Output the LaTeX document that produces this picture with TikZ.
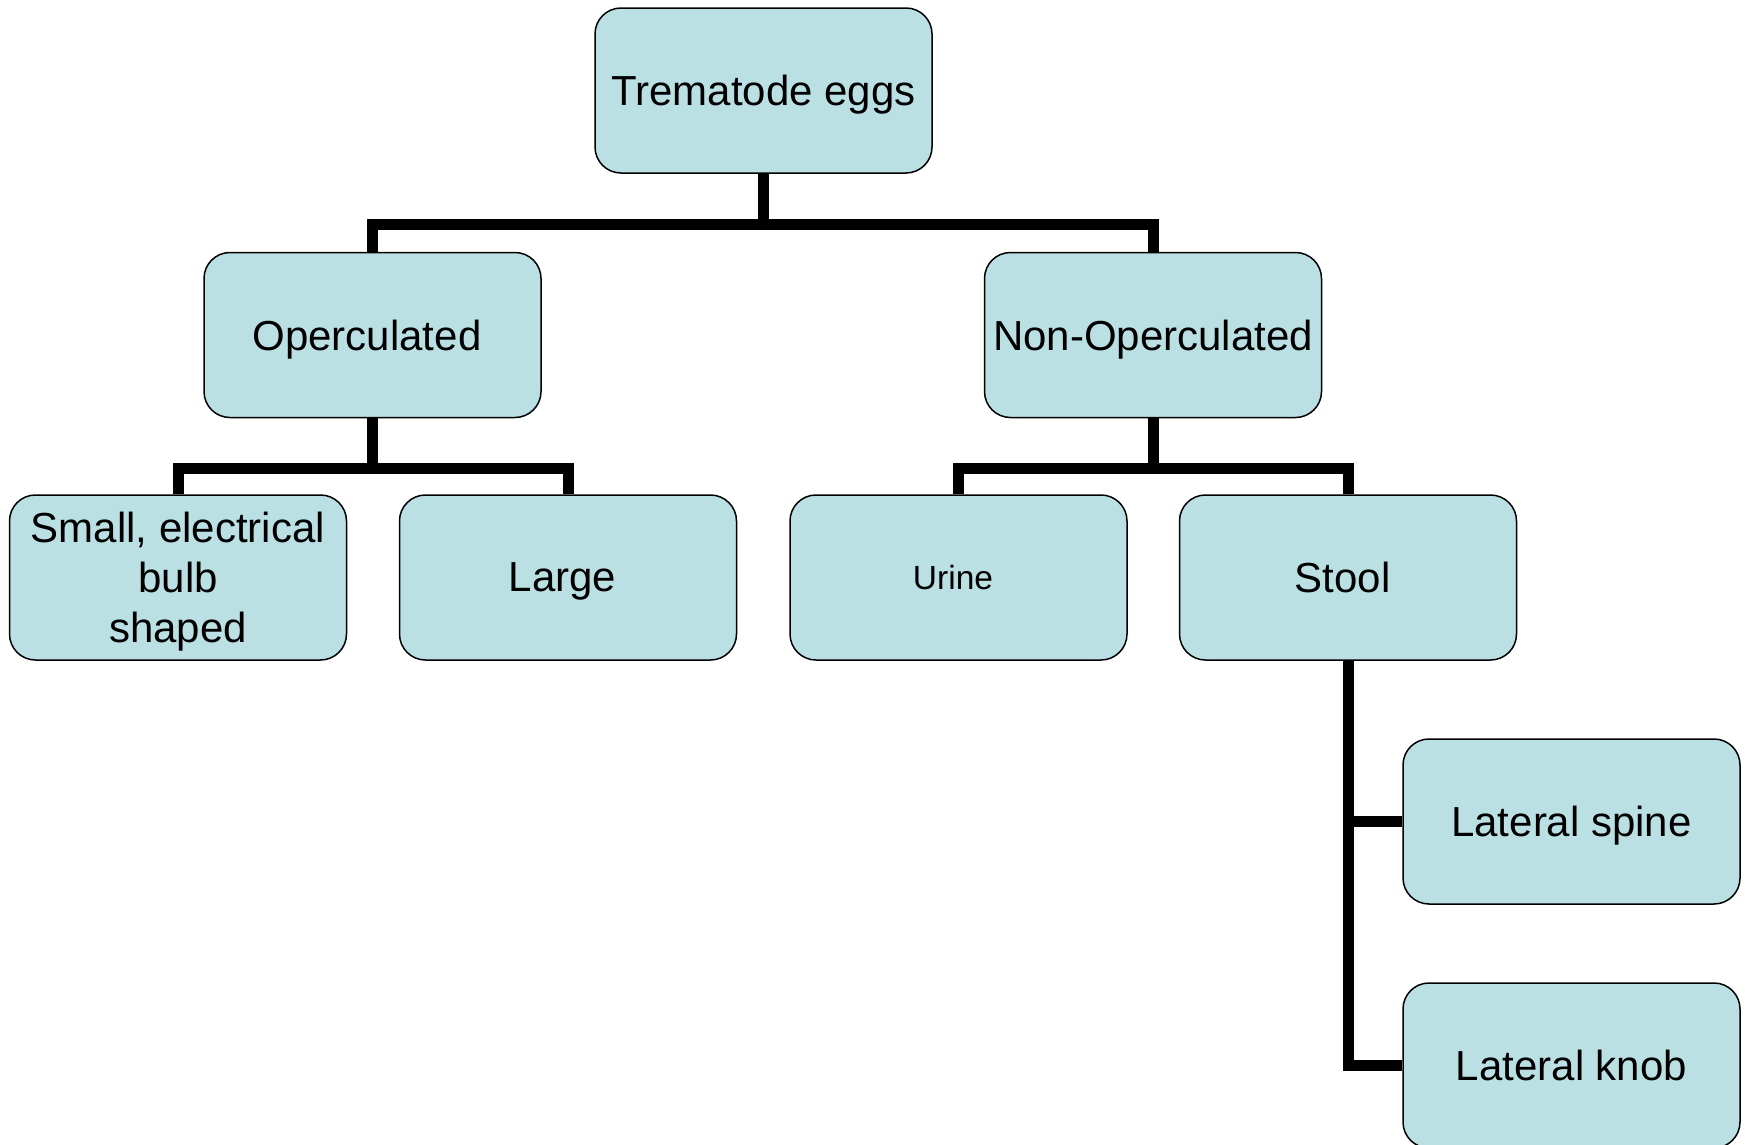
\documentclass[tikz,border=0pt]{standalone}
\usepackage{fontspec}
\setmainfont{Liberation Sans}
\definecolor{boxfill}{HTML}{BAE0E3}
\newcommand{\trail}{\hspace*{11pt}}
\tikzset{
  box/.style={draw=black, line width=1.5pt, fill=boxfill, rounded corners=26pt,
    minimum width=337pt, minimum height=165pt, inner sep=0pt, align=center,
    text depth=0pt, font=\fontsize{42}{50}\selectfont},
  conn/.style={draw=black, line width=11pt, line join=miter}
}
\begin{document}
\begin{tikzpicture}[x=1pt,y=-1pt]
\useasboundingbox (0,0) rectangle (1747,1144);
\node[box] (top) at (763.5,90.5) {Trematode eggs};
\node[box] (oper) at (372.5,335) {Operculated\trail};
\node[box] (nonop) at (1153,335) {Non-Operculated};
\node[box] (small) at (178,577.5) {Small, electrical\\bulb\\shaped};
\node[box] (large) at (568,577.5) {Large\trail};
\node[box, font=\fontsize{33.5}{40}\selectfont] (urine) at (958.5,577.5) {Urine\trail};
\node[box] (stool) at (1348,577.5) {Stool\trail};
\node[box] (spine) at (1571.5,821.5) {Lateral spine};
\node[box] (knob) at (1571.5,1065.5) {Lateral knob};
\coordinate (bar1) at (0,224.5);
\coordinate (bar2) at (0,468);
\draw[conn] (top.south) -- (top.south |- bar1);
\draw[conn] (oper.north) |- (nonop.north |- bar1) -- (nonop.north);
\draw[conn] (oper.south) -- (oper.south |- bar2);
\draw[conn] (small.north) |- (large.north |- bar2) -- (large.north);
\draw[conn] (nonop.south) -- (nonop.south |- bar2);
\draw[conn] (urine.north) |- (stool.north |- bar2) -- (stool.north);
\draw[conn] (stool.south) |- (knob.west);
\draw[conn] (stool.south |- spine.west) -- (spine.west);
\end{tikzpicture}
\end{document}
